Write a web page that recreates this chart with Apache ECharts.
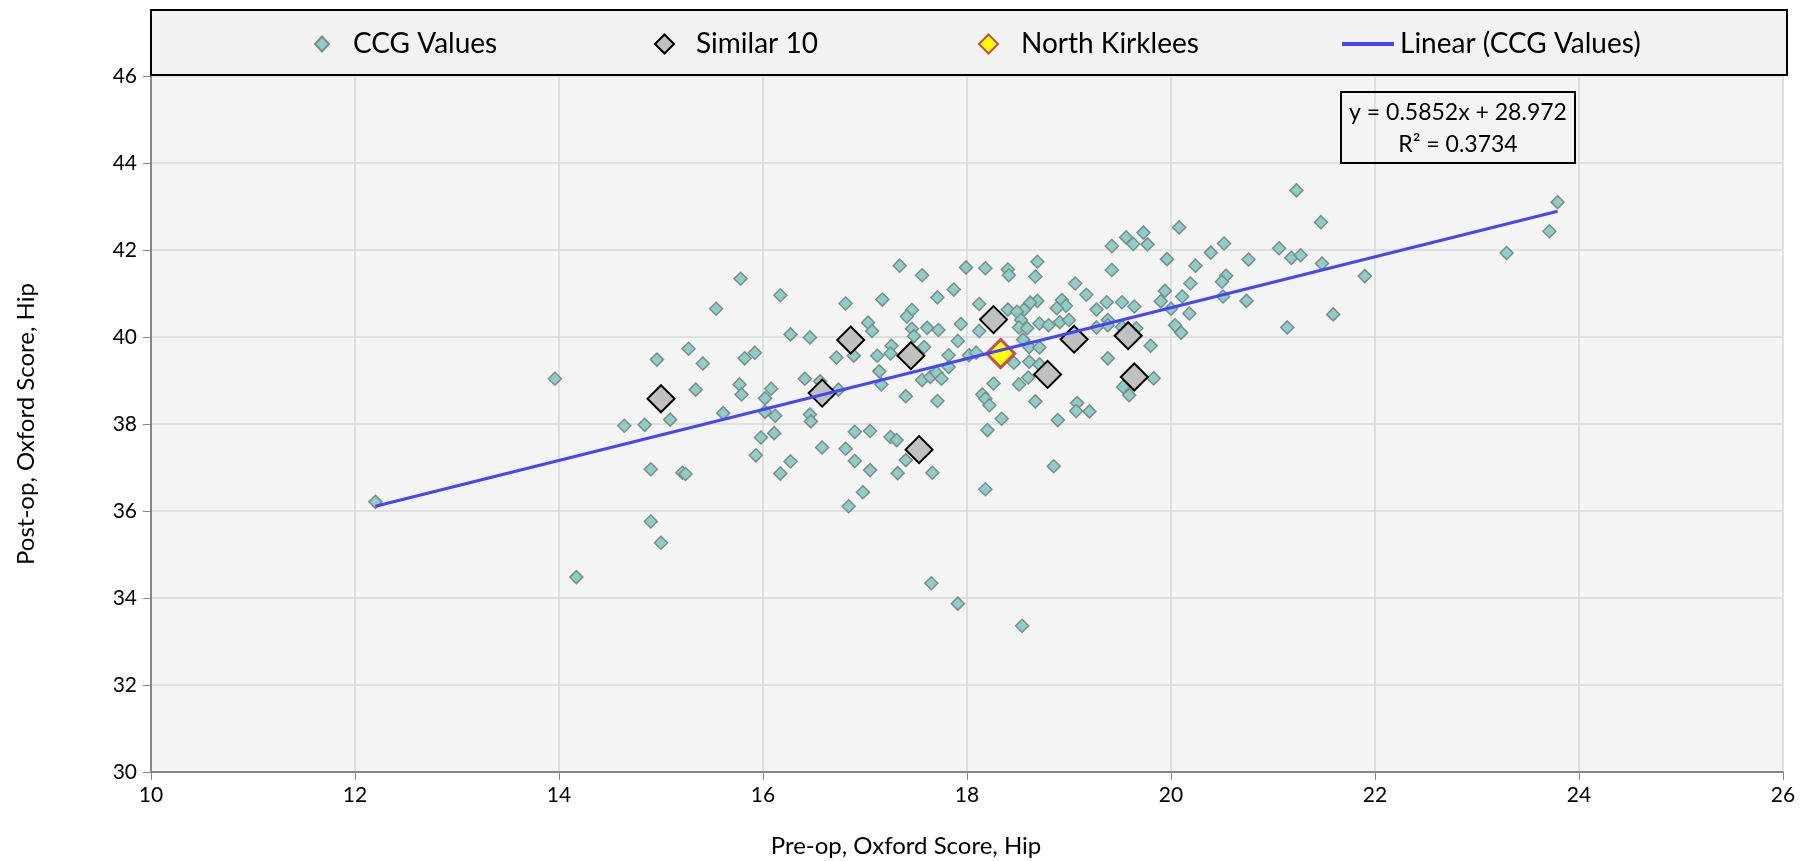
<!DOCTYPE html>
<html><head><meta charset="utf-8">
<script src="https://cdn.jsdelivr.net/npm/echarts@6/dist/echarts.min.js"></script>
<style>html,body{margin:0;padding:0;background:#fff}#c{width:1810px;height:861px}</style>
</head><body><div id="c"></div>
<script>
const seriesNames = ['CCG Values', 'Similar 10', 'North Kirklees', 'Linear (CCG Values)'];
const xTitle = 'Pre-op, Oxford Score, Hip';
const yTitle = 'Post-op, Oxford Score, Hip';
const xMin = 10, xMax = 26, xStep = 2;
const yMin = 30, yMax = 46, yStep = 2;
const equationLines = ['y = 0.5852x + 28.972', 'R² = 0.3734'];

const ccgValues = [
[12.20,36.21],[13.96,39.04],[15.78,41.34],[16.17,40.96],[15.54,40.65],[16.27,40.06],[15.27,39.73],[14.96,39.48],
[15.41,39.39],[15.82,39.51],[15.92,39.64],[15.34,38.79],[15.77,38.91],[15.79,38.68],[16.08,38.81],[16.02,38.59],
[15.61,38.25],[16.02,38.28],[16.12,38.19],[14.64,37.96],[14.84,37.98],[15.09,38.10],[15.98,37.69],[16.11,37.79],
[15.93,37.28],[14.90,36.96],[15.21,36.88],[15.24,36.85],[16.17,36.86],[16.27,37.14],[14.90,35.76],[15.00,35.27],
[14.17,34.48],[17.65,34.34],[17.91,33.87],[18.54,33.36],
[20.08,42.52],[19.73,42.40],[19.56,42.29],[19.63,42.14],[19.77,42.13],[19.42,42.09],[20.52,42.15],[20.39,41.94],
[19.96,41.79],[20.24,41.64],[19.42,41.54],[18.69,41.73],[17.34,41.64],[17.99,41.60],[18.18,41.58],[18.40,41.55],
[18.41,41.42],[18.67,41.39],[17.56,41.42],[19.06,41.23],[20.19,41.23],[20.54,41.41],[20.50,41.27],[19.17,40.97],
[19.94,41.06],[20.11,40.93],[19.90,40.82],[20.51,40.93],[17.87,41.09],[17.71,40.91],[17.17,40.86],[16.81,40.77],
[18.12,40.76],[18.40,40.63],[18.56,40.63],[18.69,40.83],[18.62,40.79],[18.93,40.85],[18.97,40.72],[18.88,40.66],
[19.27,40.63],[19.37,40.80],[19.52,40.80],[19.64,40.70],[20.00,40.65],[20.18,40.54],[20.04,40.27],[20.10,40.10],
[17.46,40.62],[17.41,40.47],[17.03,40.33],[17.07,40.14],[16.46,39.99],[17.46,40.19],[17.48,40.02],[17.61,40.21],
[17.72,40.16],[17.94,40.30],[17.91,39.91],[18.12,40.14],[18.49,40.58],[18.53,40.39],[18.51,40.22],[18.59,40.20],
[18.71,40.31],[18.80,40.27],[18.91,40.34],[19.00,40.39],[19.27,40.22],[19.38,40.39],[19.38,40.27],[19.52,40.23],
[19.66,40.20],[19.80,39.80],[19.38,39.51],[19.83,39.05],[19.53,38.85],[19.59,38.66],[18.55,39.94],[18.61,39.77],
[18.71,39.76],[18.61,39.43],[18.71,39.37],[18.46,39.41],[18.60,39.07],[18.51,38.91],[18.26,38.93],[18.15,38.68],
[18.18,38.58],[18.22,38.43],[18.67,38.52],[19.08,38.48],[19.07,38.30],[19.20,38.29],[18.89,38.09],[18.34,38.12],
[18.20,37.86],[18.85,37.03],[18.18,36.50],[18.02,39.58],[18.09,39.64],[17.82,39.58],[17.58,39.77],[17.26,39.80],
[17.25,39.62],[17.12,39.57],[16.89,39.57],[16.72,39.53],[17.14,39.21],[17.16,38.91],[17.56,39.01],[17.64,39.08],
[17.70,39.18],[17.75,39.04],[17.82,39.31],[17.40,38.64],[17.71,38.53],[16.41,39.04],[16.56,38.98],[16.74,38.79],
[16.46,38.22],[16.47,38.06],[16.90,37.82],[17.05,37.84],[17.25,37.70],[17.31,37.63],[16.58,37.46],[16.81,37.43],
[16.90,37.15],[17.05,36.94],[17.32,36.87],[17.40,37.17],[17.66,36.88],[16.98,36.43],[16.84,36.11],
[21.23,43.37],[23.79,43.10],[21.47,42.64],[23.71,42.43],[23.29,41.93],[21.06,42.04],[20.76,41.78],[21.18,41.82],
[21.27,41.88],[21.48,41.69],[21.90,41.40],[20.74,40.83],[21.59,40.52],[21.14,40.22]
];
const similar10 = [
[15.00,38.58],[16.86,39.93],[16.58,38.71],[17.45,39.57],[17.53,37.41],[18.26,40.40],[19.05,39.95],[18.79,39.14],[19.58,40.03],[19.64,39.08]
];
const northKirklees = [[18.33,39.62]];
const trendLine = [[12.20,36.11],[23.79,42.89]];

const FONT = 'Lato, "Open Sans", sans-serif';
const chart = echarts.init(document.getElementById('c'), null, {renderer:'canvas'});

function legendItem(name, left, w, h, pad, extra) {
  return Object.assign({
    show: true, data: [name], left: left, top: 44 - 15, orient: 'horizontal',
    padding: 0, itemWidth: w, itemHeight: h, itemGap: 0, z: 10, selectedMode: false,
    textStyle: { fontFamily: FONT, fontSize: 28, color: '#000', lineHeight: 30, padding: [0,0,0,pad] }
  }, extra || {});
}

const option = {
  backgroundColor: '#ffffff',
  animation: false,
  grid: { left: 151, right: 27, top: 76, bottom: 89, show: true, backgroundColor: '#f4f4f4', borderWidth: 0, containLabel: false },
  xAxis: {
    type: 'value', min: xMin, max: xMax, interval: xStep,
    axisLine: { show: true, onZero: false, lineStyle: { color: '#878787', width: 2 } },
    axisTick: { show: true, inside: false, length: 8, lineStyle: { color: '#878787', width: 1 } },
    splitLine: { show: true, lineStyle: { color: '#d9d9d9', width: 1.5 } },
    axisLabel: { fontFamily: FONT, fontSize: 21, color: '#000', margin: 13 }
  },
  yAxis: {
    type: 'value', min: yMin, max: yMax, interval: yStep,
    axisLine: { show: true, onZero: false, lineStyle: { color: '#878787', width: 2 } },
    axisTick: { show: true, inside: false, length: 8, lineStyle: { color: '#878787', width: 1 } },
    splitLine: { show: true, lineStyle: { color: '#d9d9d9', width: 1.5 } },
    axisLabel: { fontFamily: FONT, fontSize: 21, color: '#000', margin: 14 }
  },
  legend: [
    legendItem(seriesNames[0], 314, 14, 15, 19),
    legendItem(seriesNames[1], 654, 19, 19, 17),
    legendItem(seriesNames[2], 978, 19, 19, 18),
    Object.assign(legendItem(seriesNames[3], 1342, 52, 4, 1), { data: [{ name: seriesNames[3], icon: 'rect' }] })
  ],
  graphic: [
    { type: 'rect', z: 1, shape: { x: 151, y: 10, width: 1636, height: 65 }, style: { fill: '#f2f2f2', stroke: '#000', lineWidth: 2 } },
    { type: 'rect', z: 50, shape: { x: 1341, y: 92, width: 234, height: 71 }, style: { fill: 'none', stroke: '#000', lineWidth: 2 } },
    { type: 'text', z: 50, x: 1458, y: 113, style: { text: equationLines[0], font: '23px ' + FONT, fill: '#000', align: 'center', verticalAlign: 'middle' } },
    { type: 'text', z: 50, x: 1458, y: 145, style: { text: equationLines[1], font: '23px ' + FONT, fill: '#000', align: 'center', verticalAlign: 'middle' } },
    { type: 'text', z: 50, x: 906, y: 846, style: { text: xTitle, font: '24px ' + FONT, fill: '#000', align: 'center', verticalAlign: 'middle' } },
    { type: 'text', z: 50, x: 26, y: 424, rotation: Math.PI / 2, style: { text: yTitle, font: '24px ' + FONT, fill: '#000', align: 'center', verticalAlign: 'middle' } }
  ],
  series: [
    { name: seriesNames[0], type: 'scatter', data: ccgValues, symbol: 'diamond', symbolSize: 13, z: 2,
      itemStyle: { color: '#8dcfc6', borderColor: '#7b8c8a', borderWidth: 1.5, opacity: 1 } },
    { name: seriesNames[1], type: 'scatter', data: similar10, symbol: 'diamond', symbolSize: 27, z: 3,
      itemStyle: { color: '#c0c0c0', borderColor: '#000000', borderWidth: 2, opacity: 1 } },
    { name: seriesNames[2], type: 'scatter', data: northKirklees, symbol: 'diamond', symbolSize: 28, z: 4,
      itemStyle: { color: '#ffff00', borderColor: '#c0504d', borderWidth: 3, opacity: 1 } },
    { name: seriesNames[3], type: 'line', data: trendLine, showSymbol: false, symbol: 'none', z: 5, color: '#4646f6',
      lineStyle: { color: '#4646f6', width: 3 }, itemStyle: { color: '#4646f6' } }
  ]
};
chart.setOption(option);
</script></body></html>
